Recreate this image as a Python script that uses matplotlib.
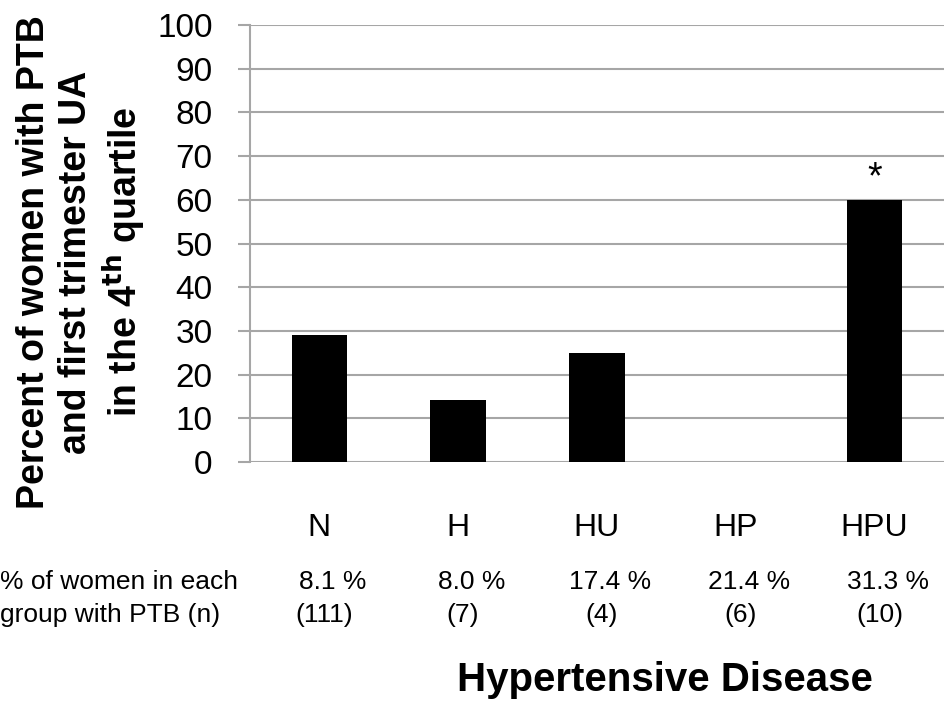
import matplotlib.pyplot as plt
import numpy as np

groups = ["N", "H", "HU", "HP", "HPU"]
pct_top_quartile = [29, 14.3, 25, 0, 60]
pct_ptb = ["8.1 %", "8.0 %", "17.4 %", "21.4 %", "31.3 %"]
n_ptb = ["(111)", "(7)", "(4)", "(6)", "(10)"]
signif = ["", "", "", "", "*"]

plt.rcParams['font.family'] = ['Liberation Sans', 'DejaVu Sans']
grid_col = "#a6a6a6"

fig = plt.figure(figsize=(9.44, 7.02), dpi=100)
ax = fig.add_axes([250 / 944, 1 - 462 / 702, 1 - 250 / 944, (462 - 25) / 702])

x = np.arange(len(groups))
bars = ax.bar(x, pct_top_quartile, width=0.4, color="black", zorder=3)

ax.set_xlim(-0.5, len(groups) - 0.5)
ax.set_ylim(0, 100)
ax.set_yticks(np.arange(0, 101, 10))
ax.tick_params(axis="y", labelsize=24, length=9, width=1.5, color=grid_col, pad=18)
ax.set_xticks([])
ax.yaxis.grid(True, color=grid_col, linewidth=1.5, zorder=0)
for s in ["top", "right", "bottom"]:
    ax.spines[s].set_visible(False)
ax.spines["left"].set_color(grid_col)
ax.spines["left"].set_linewidth(1.5)

for b, mark in zip(bars, signif):
    if mark:
        ax.text(b.get_x() + b.get_width() / 2, b.get_height() + 5, mark,
                ha="center", va="center", fontsize=27)

# category names and the table underneath
trans = ax.get_xaxis_transform()
for i, g in enumerate(groups):
    ax.text(i, -0.15, g, transform=trans, ha="center", va="center", fontsize=23)
for i, (p, n) in enumerate(zip(pct_ptb, n_ptb)):
    ax.text(i + 0.095, -0.275, p, transform=trans, ha="center", va="center", fontsize=19)
    ax.text(i + 0.035, -0.35, n, transform=trans, ha="center", va="center", fontsize=19)

fig.text(0, 1 - 582 / 702, "% of women in each", ha="left", va="center", fontsize=19)
fig.text(0, 1 - 615 / 702, "group with PTB (n)", ha="left", va="center", fontsize=19)

fig.text(665 / 944, 1 - 680 / 702, "Hypertensive Disease", ha="center", va="center",
         fontsize=29, fontweight="bold")

fig.text(82 / 944, 1 - 262 / 702,
         "Percent of women with PTB\nand first trimester UA\nin the 4$^{\\mathbf{th}}$ quartile",
         rotation=90, ha="center", va="center", fontsize=27, fontweight="bold",
         linespacing=1.2)

fig.savefig("out.png", dpi=100)
